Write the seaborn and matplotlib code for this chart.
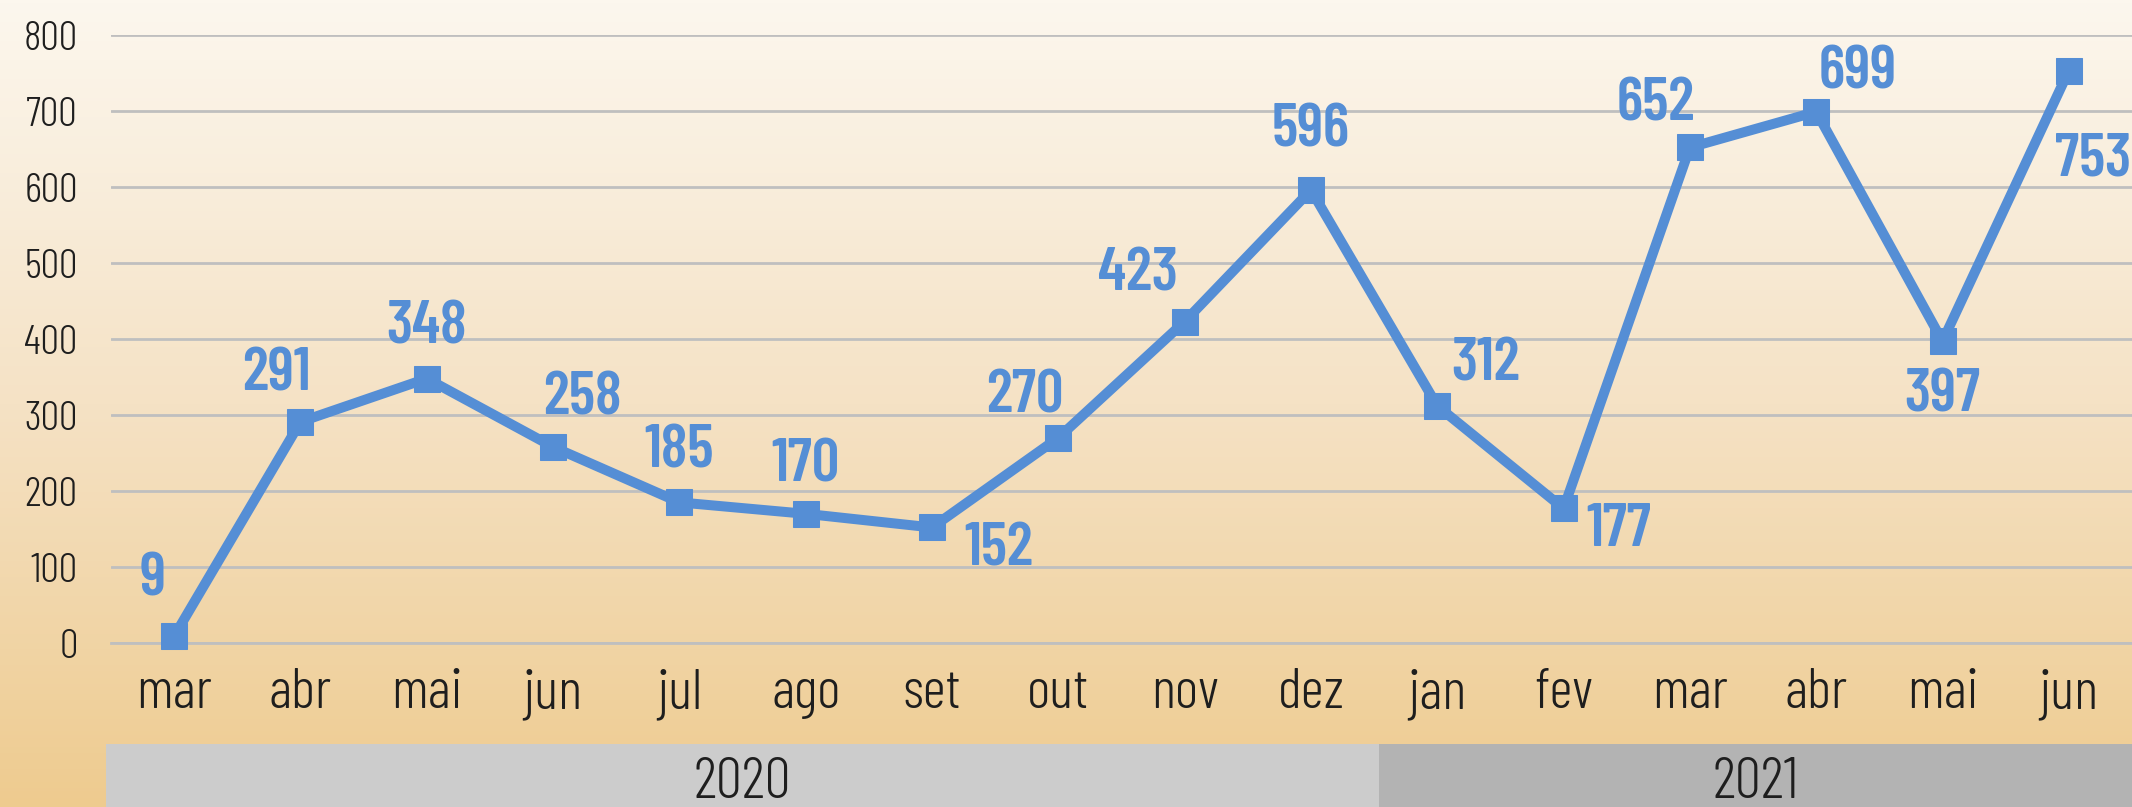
import numpy as np
import pandas as pd
import matplotlib
matplotlib.use("Agg")
import matplotlib.pyplot as plt
import seaborn as sns
from matplotlib.colors import LinearSegmentedColormap

# ---- data ----
months = ["mar", "abr", "mai", "jun", "jul", "ago", "set", "out", "nov", "dez",
          "jan", "fev", "mar", "abr", "mai", "jun"]
values = [9, 291, 348, 258, 185, 170, 152, 270, 423, 596,
          312, 177, 652, 699, 397, 753]
years = ["2020", "2021"]
year_counts = [10, 6]
y_ticks = [0, 100, 200, 300, 400, 500, 600, 700, 800]

# label offsets in pixels (dx, dy up)
label_offsets = [(-22, 57), (-24, 47), (0, 51), (29, 48), (0, 51), (0, 48),
                 (67, -22), (-34, 41), (-47, 47), (0, 60), (48, 41), (55, -22),
                 (-34, 43), (41, 39), (0, -54), (24, -89)]

BLUE = "#558ED5"
GRID = "#BFBFBF"
TXT = "#1E1E1E"

sns.set_style("white")
FAM = ["Barlow Condensed", "Saira Condensed", "DejaVu Sans"]
plt.rcParams["font.family"] = FAM

W, H = 2132, 807
fig = plt.figure(figsize=(W / 100, H / 100), dpi=100)

# background gradient
bg = fig.add_axes([0, 0, 1, 1], zorder=-10)
cmap = LinearSegmentedColormap.from_list("bgc", ["#EECB8F", "#F5E2C5", "#FCF7EE"])
grad = np.linspace(0, 1, 256).reshape(-1, 1)
bg.imshow(grad, aspect="auto", cmap=cmap, origin="lower", extent=[0, 1, 0, 1])
bg.axis("off")

# main axes
x0, x1 = 111, 2132
y_zero, y_top = 643, 35
ax = fig.add_axes([x0 / W, (H - y_zero) / H, (x1 - x0) / W, (y_zero - y_top) / H])
ax.set_facecolor("none")

df = pd.DataFrame({"idx": np.arange(len(values)), "value": values})
sns.lineplot(data=df, x="idx", y="value", ax=ax, color=BLUE, linewidth=7.2,
             marker="s", markersize=18.5, markeredgecolor=BLUE,
             markerfacecolor=BLUE, zorder=5, clip_on=False)

ax.set_xlim(-0.5, len(values) - 0.5)
ax.set_ylim(0, 800)
ax.set_yticks(y_ticks)
ax.set_yticklabels([str(v) for v in y_ticks], fontsize=30, color=TXT,
                   fontweight=300)
ax.tick_params(axis="y", length=0, pad=24)
ax.yaxis.grid(True, color=GRID, linewidth=2)
ax.set_axisbelow(True)

ax.set_xticks(np.arange(len(months)))
ax.set_xticklabels(months, fontsize=41, color=TXT, fontweight=300)
ax.tick_params(axis="x", which="major", length=0, pad=18)
ax.set_xticks(np.arange(len(months) + 1) - 0.5, minor=True)
ax.tick_params(axis="x", which="minor", direction="in", length=10, width=1.5,
               color=GRID)
ax.set_xlabel("")
ax.set_ylabel("")
for s in ["top", "right", "left"]:
    ax.spines[s].set_visible(False)
ax.spines["bottom"].set_color(GRID)
ax.spines["bottom"].set_linewidth(2)

for i, (v, (dx, dy)) in enumerate(zip(values, label_offsets)):
    ax.annotate(str(v), (i, v), xytext=(dx, dy), textcoords="offset pixels",
                ha="center", va="center", fontsize=44, fontweight=600,
                color=BLUE, zorder=6, annotation_clip=False)

# year band
bx0 = 106
band = fig.add_axes([bx0 / W, 0, (W - bx0) / W, (H - 744) / H])
start = -0.643
band.set_xlim(start, len(values) - 0.5)
band.set_ylim(0, 1)
band_colors = ["#CCCCCC", "#B3B3B3"]
pos = -0.5
for k, (yr, n) in enumerate(zip(years, year_counts)):
    left = start if k == 0 else pos
    right = pos + n
    band.axvspan(left, right, color=band_colors[k], lw=0)
    band.text((left + right) / 2, 0.37, yr, ha="center", va="center",
              fontsize=42, color=TXT, fontweight=300)
    pos += n
band.axis("off")

fig.savefig("out.png", dpi=100)
